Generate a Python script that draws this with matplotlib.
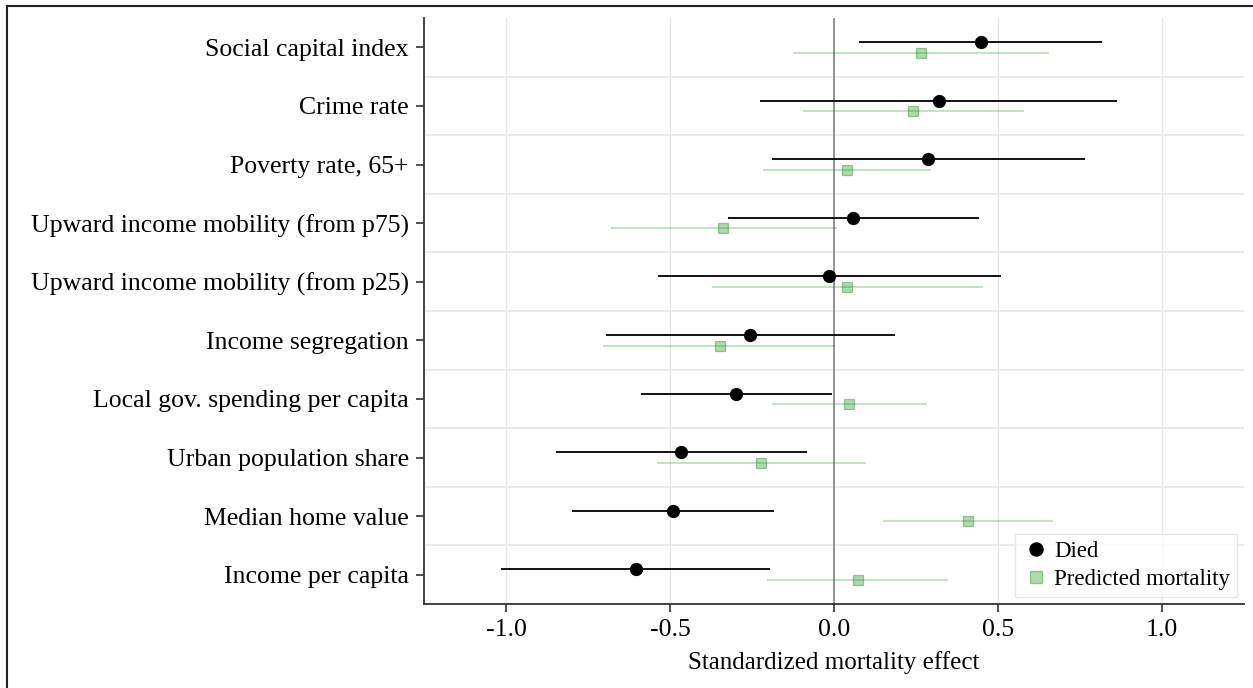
import matplotlib.pyplot as plt
from matplotlib.lines import Line2D
import numpy as np

plt.rcParams['font.family'] = ['Liberation Serif', 'DejaVu Serif']

# categories from bottom to top
labels = ['Income per capita', 'Median home value', 'Urban population share',
          'Local gov. spending per capita', 'Income segregation',
          'Upward income mobility (from p25)', 'Upward income mobility (from p75)',
          'Poverty rate, 65+', 'Crime rate', 'Social capital index']

died = [-0.605, -0.490, -0.466, -0.298, -0.255, -0.014, 0.058, 0.287, 0.320, 0.448]
died_lo = [-1.014, -0.800, -0.849, -0.588, -0.695, -0.537, -0.324, -0.189, -0.225, 0.077]
died_hi = [-0.196, -0.182, -0.083, -0.007, 0.186, 0.508, 0.441, 0.764, 0.864, 0.818]

pred = [0.074, 0.409, -0.222, 0.047, -0.349, 0.041, -0.337, 0.039, 0.242, 0.266]
pred_lo = [-0.203, 0.150, -0.541, -0.189, -0.704, -0.371, -0.681, -0.216, -0.095, -0.125]
pred_hi = [0.349, 0.668, 0.097, 0.285, 0.002, 0.453, 0.008, 0.295, 0.579, 0.656]

y = np.arange(len(labels))
off = 0.09

fig = plt.figure(figsize=(12.53, 6.88), dpi=100)
ax = fig.add_axes([0.3384, 0.1221, 0.6544, 0.8517])

# grid
for gx in [-1.0, -0.5, 0.5, 1.0]:
    ax.axvline(gx, color='#e6e6e6', lw=1.0, zorder=0)
for gy in np.arange(0.5, len(labels) - 1, 1.0):
    ax.axhline(gy, color='#e6e6e6', lw=1.2, zorder=0)
ax.axvline(0, color='#808080', lw=1.2, zorder=1)

# died
ax.hlines(y + off, died_lo, died_hi, color='black', lw=1.3, zorder=3)
ax.plot(died, y + off, 'o', color='black', ms=8.5, zorder=4, label='Died')

# predicted mortality
ax.hlines(y - off, pred_lo, pred_hi, color='green', alpha=0.3, lw=1.1, zorder=2)
ax.plot(pred, y - off, 's', mfc=(0.0, 0.5, 0.0, 0.3), mec=(0.0, 0.5, 0.0, 0.35),
        mew=1.0, ms=7.5, ls='none', zorder=3, label='Predicted mortality')

ax.set_xlim(-1.25, 1.25)
ax.set_ylim(-0.5, len(labels) - 0.5)
ax.set_yticks(y)
ax.set_yticklabels(labels, fontsize=18.5)
ax.set_xticks([-1.0, -0.5, 0.0, 0.5, 1.0])
ax.set_xticklabels(['-1.0', '-0.5', '0.0', '0.5', '1.0'], fontsize=18.5)
ax.set_xlabel('Standardized mortality effect', fontsize=18, labelpad=7)
ax.tick_params(axis='both', length=6, width=1.2, color='#333333', pad=5)

for s in ['top', 'right']:
    ax.spines[s].set_visible(False)
for s in ['left', 'bottom']:
    ax.spines[s].set_color('#333333')
    ax.spines[s].set_linewidth(1.3)

leg = ax.legend(loc='lower right', fontsize=16.5, frameon=True, fancybox=False,
                handletextpad=0.2, borderpad=0.3, labelspacing=0.3,
                handlelength=1.2, borderaxespad=0.3, markerscale=1.1)
leg.get_frame().set_edgecolor('#e0e0e0')
leg.get_frame().set_linewidth(1.0)

# figure frame (top and left edges)
fig.add_artist(Line2D([7 / 1253, 1.0], [1 - 6 / 688, 1 - 6 / 688], color='#222222', lw=1.5))
fig.add_artist(Line2D([7 / 1253, 7 / 1253], [0.0, 1 - 6 / 688], color='#222222', lw=1.5))

fig.savefig('out.png', dpi=100)
